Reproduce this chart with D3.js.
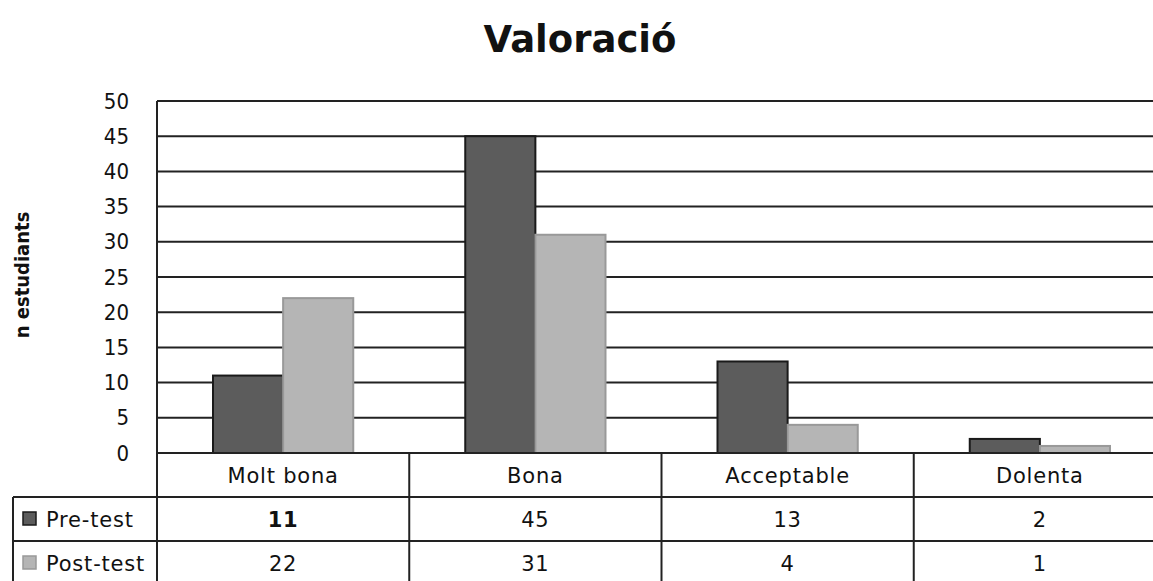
<!DOCTYPE html>
<html>
<head>
<meta charset="utf-8">
<script src="https://cdn.jsdelivr.net/npm/d3@7"></script>
<style>
  body { margin:0; background:#fff; }
  svg { display:block; font-family:"DejaVu Sans", Verdana, sans-serif; }
</style>
</head>
<body>
<div id="chart-area"></div>
<script>
// data
var categories = ["Molt bona", "Bona", "Acceptable", "Dolenta"];
var seriesNames = ["Pre-test", "Post-test"];
var preTest = [11, 45, 13, 2];
var postTest = [22, 31, 4, 1];
var yTicks = [0, 5, 10, 15, 20, 25, 30, 35, 40, 45, 50];
var seriesColors = ["#5c5c5c", "#b5b5b5"];
var seriesStroke = ["#1a1a1a", "#999"];

var W = 1153, H = 581;
var margin = { left:157, right:-13, top:101, bottom:128 };
var width = W - margin.left - margin.right;
var height = H - margin.top - margin.bottom;

var svg = d3.select("#chart-area").append("svg")
  .attr("width", W).attr("height", H);

// title
svg.append("text")
  .attr("x", 580).attr("y", 52)
  .attr("text-anchor", "middle")
  .attr("font-size", "37px").attr("font-weight", "bold")
  .attr("fill", "#111")
  .text("Valoració");

// y label
svg.append("text")
  .attr("transform", "translate(29," + (margin.top + height/2 - 2) + ") rotate(-90)")
  .attr("text-anchor", "middle")
  .attr("font-family", "'DejaVu Sans Condensed', 'DejaVu Sans', sans-serif")
  .attr("font-size", "20px").attr("font-weight", "bold")
  .attr("fill", "#111")
  .text("n estudiants");

var g = svg.append("g")
  .attr("transform", "translate(" + margin.left + "," + margin.top + ")");

var x = d3.scaleBand().domain(categories).range([0, width]);
var x1 = d3.scaleBand().domain(seriesNames).range([56, x.bandwidth() - 56]);
var y = d3.scaleLinear().domain([0, 50]).range([height, 0]);

// gridlines
g.selectAll(".grid").data(yTicks).enter().append("line")
  .attr("x1", 0).attr("x2", width)
  .attr("y1", function(d){ return y(d); })
  .attr("y2", function(d){ return y(d); })
  .attr("stroke", "#222").attr("stroke-width", 2);

// y axis labels
var yAxis = d3.axisLeft(y).tickValues(yTicks).tickSize(0).tickPadding(28);
var ya = g.append("g").call(yAxis);
ya.select(".domain").remove();
ya.selectAll("text").attr("font-size", "22px").attr("fill", "#111")
  .attr("font-family", "'DejaVu Sans Condensed', 'DejaVu Sans', sans-serif");

// bars
var series = [preTest, postTest];
series.forEach(function(vals, si){
  g.selectAll(".bar" + si).data(vals).enter().append("rect")
    .attr("x", function(d, i){ return x(categories[i]) + x1(seriesNames[si]); })
    .attr("width", x1.bandwidth())
    .attr("y", function(d){ return y(d); })
    .attr("height", function(d){ return height - y(d); })
    .attr("fill", seriesColors[si])
    .attr("stroke", seriesStroke[si]).attr("stroke-width", 2);
});

// left axis line
g.append("line").attr("x1", 0).attr("x2", 0).attr("y1", 0).attr("y2", height)
  .attr("stroke", "#222").attr("stroke-width", 2);

// data table
var rowH = 44;
var tableLeft = 13 - margin.left;
var tg = g.append("g").attr("transform", "translate(0," + height + ")");
var lineStyle = function(sel){ return sel.attr("stroke", "#222").attr("stroke-width", 2); };
var cellText = function(sel){
  return sel.attr("font-size", "21px").attr("letter-spacing", "0.8px").attr("fill", "#111");
};

// horizontal lines
lineStyle(tg.append("line").attr("x1", 0).attr("x2", width).attr("y1", 0).attr("y2", 0));
[1, 2].forEach(function(r){
  lineStyle(tg.append("line").attr("x1", tableLeft).attr("x2", width)
    .attr("y1", r * rowH).attr("y2", r * rowH));
});
// vertical lines
categories.forEach(function(c){
  lineStyle(tg.append("line").attr("x1", x(c)).attr("x2", x(c))
    .attr("y1", 0).attr("y2", 3 * rowH));
});
lineStyle(tg.append("line").attr("x1", tableLeft).attr("x2", tableLeft)
  .attr("y1", rowH).attr("y2", 3 * rowH));

// header
cellText(tg.selectAll(".cat").data(categories).enter().append("text"))
  .attr("x", function(d){ return x(d) + x.bandwidth()/2; })
  .attr("y", rowH/2 + 8)
  .attr("text-anchor", "middle")
  .text(function(d){ return d; });

// rows
series.forEach(function(vals, si){
  var ry = (si + 1) * rowH;
  tg.append("rect").attr("x", tableLeft + 10).attr("y", ry + rowH/2 - 7)
    .attr("width", 13).attr("height", 13)
    .attr("fill", seriesColors[si]).attr("stroke", seriesStroke[si]).attr("stroke-width", 1.5);
  cellText(tg.append("text")).attr("x", tableLeft + 33).attr("y", ry + rowH/2 + 8)
    .text(seriesNames[si]);
  cellText(tg.selectAll(".v" + si).data(vals).enter().append("text"))
    .attr("x", function(d, i){ return x(categories[i]) + x.bandwidth()/2; })
    .attr("y", ry + rowH/2 + 8)
    .attr("text-anchor", "middle")
    .attr("font-weight", function(d, i){ return si === 0 && i === 0 ? "bold" : "normal"; })
    .text(function(d){ return d; });
});
</script>
</body>
</html>
